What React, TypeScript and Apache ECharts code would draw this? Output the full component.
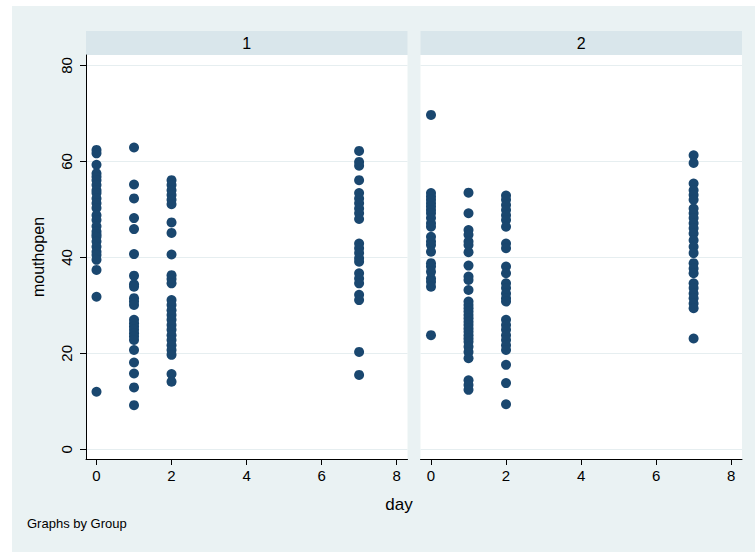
import React, { useEffect, useRef } from "react";
import * as echarts from "echarts";

const dayTicks = [0, 2, 4, 6, 8];
const yTicks = [0, 20, 40, 60, 80];
const groupLabels = ["1", "2"];

const g1d0 = [62.4, 61.7, 59.3, 57.5, 56.8, 56.1, 55.1, 54.0, 53.4, 52.3, 51.3, 50.3, 48.8, 47.8, 46.5, 45.4, 44.8, 44.3, 43.3, 42.2, 41.2, 40.5, 39.5, 37.4, 31.8, 12.0];
const g1d1 = [62.9, 55.2, 52.3, 48.2, 45.9, 40.7, 36.2, 34.4, 33.9, 31.5, 30.8, 30.1, 27.0, 26.3, 25.6, 24.9, 24.2, 23.5, 22.8, 20.7, 18.1, 15.8, 12.9, 9.2];
const g1d2 = [56.1, 55.1, 54.0, 53.0, 52.0, 51.1, 47.3, 45.1, 40.6, 36.3, 35.5, 34.6, 31.1, 30.1, 29.0, 28.0, 27.0, 25.9, 24.9, 23.8, 22.8, 21.7, 20.7, 19.7, 15.7, 14.1];
const g1d7 = [62.2, 59.9, 59.1, 56.1, 53.4, 52.3, 51.3, 50.2, 49.2, 48.0, 42.9, 41.9, 40.9, 39.8, 39.1, 36.7, 35.6, 34.6, 32.2, 31.1, 20.3, 15.5];

const g2d0 = [69.7, 53.4, 52.7, 52.0, 51.3, 50.6, 49.9, 49.2, 48.2, 47.1, 46.4, 44.3, 43.3, 42.6, 41.2, 38.8, 38.1, 37.0, 35.6, 34.9, 33.9, 23.8];
const g2d1 = [53.5, 49.2, 45.7, 44.7, 43.3, 42.6, 41.1, 38.3, 36.0, 35.3, 33.2, 30.8, 30.1, 29.4, 28.7, 28.0, 27.3, 26.6, 25.9, 25.2, 24.5, 23.8, 23.1, 22.4, 21.4, 20.3, 19.0, 14.4, 13.4, 12.4];
const g2d2 = [52.9, 52.0, 50.9, 49.9, 48.8, 47.8, 46.4, 42.9, 41.9, 38.1, 36.7, 34.6, 33.6, 32.5, 31.5, 30.8, 27.0, 25.9, 24.9, 23.8, 22.8, 21.7, 20.7, 17.6, 13.8, 9.4];
const g2d7 = [61.3, 59.7, 55.4, 54.0, 53.0, 52.0, 50.2, 49.2, 48.2, 47.1, 46.1, 45.0, 43.6, 42.2, 40.9, 38.8, 37.7, 36.7, 34.6, 33.6, 32.5, 31.5, 30.4, 29.4, 23.1];

const group1 = [
  { day: 0, values: g1d0 },
  { day: 1, values: g1d1 },
  { day: 2, values: g1d2 },
  { day: 7, values: g1d7 },
];
const group2 = [
  { day: 0, values: g2d0 },
  { day: 1, values: g2d1 },
  { day: 2, values: g2d2 },
  { day: 7, values: g2d7 },
];

const toPoints = (g: { day: number; values: number[] }[]) =>
  g.flatMap((d) => d.values.map((v) => [d.day, v]));

const FONT = "Liberation Sans, Arial, Helvetica, sans-serif";
const BG = "#eaf2f3";
const STRIP = "#d9e6eb";
const GRID = "#e6eef0";
const MARK = "#1a476f";

export default function App() {
  const ref = useRef<HTMLDivElement>(null);

  useEffect(() => {
    if (!ref.current) return;
    const chart = echarts.init(ref.current, undefined, { renderer: "svg" });

    const gridLeft = [86, 420.5];
    const gridWidth = 321.5;
    const gridTop = 55;
    const gridHeight = 404;

    const xAxisCommon = (idx: number) => ({
      type: "value",
      gridIndex: idx,
      min: -0.28,
      max: 8.29,
      axisLine: { show: true, onZero: false, lineStyle: { color: "#000", width: 1 } },
      axisTick: { show: true, length: 6, customValues: dayTicks, lineStyle: { color: "#000" } },
      axisLabel: { show: true, customValues: dayTicks, margin: 9, color: "#000", fontSize: 15, fontFamily: FONT },
      splitLine: { show: false },
    });

    const yAxisCommon = (idx: number) => ({
      type: "value",
      gridIndex: idx,
      min: -2.02,
      max: 82.19,
      axisLine: { show: idx === 0, onZero: false, lineStyle: { color: "#000", width: 1 } },
      axisTick: { show: idx === 0, length: 6, customValues: yTicks, lineStyle: { color: "#000" } },
      axisLabel: {
        show: idx === 0,
        customValues: yTicks,
        rotate: 90,
        margin: 12,
        color: "#000",
        fontSize: 15,
        fontFamily: FONT,
      },
      splitLine: { show: true, lineStyle: { color: GRID, width: 1.2 } },
    });

    const strips = groupLabels.map((label, i) => ({
      type: "group",
      children: [
        {
          type: "rect",
          shape: { x: gridLeft[i], y: 31, width: gridWidth, height: 24 },
          style: { fill: STRIP },
        },
        {
          type: "text",
          x: gridLeft[i] + gridWidth / 2,
          y: 43,
          style: {
            text: label,
            fill: "#000",
            font: `16px ${FONT}`,
            textAlign: "center",
            textVerticalAlign: "middle",
          },
        },
      ],
    }));

    chart.setOption({
      animation: false,
      backgroundColor: "#fff",
      graphic: [
        {
          type: "rect",
          z: -10,
          silent: true,
          shape: { x: 12, y: 6, width: 743, height: 546 },
          style: { fill: BG },
        },
        ...strips,
        {
          type: "text",
          x: 399,
          y: 504,
          style: { text: "day", fill: "#000", font: `17px ${FONT}`, textAlign: "center", textVerticalAlign: "middle" },
        },
        {
          type: "text",
          x: 38,
          y: 257,
          rotation: Math.PI / 2,
          style: { text: "mouthopen", fill: "#000", font: `16px ${FONT}`, textAlign: "center", textVerticalAlign: "middle" },
        },
        {
          type: "text",
          x: 27,
          y: 523,
          style: { text: "Graphs by Group", fill: "#000", font: `13px ${FONT}`, textAlign: "left", textVerticalAlign: "middle" },
        },
      ],
      grid: gridLeft.map((l) => ({
        left: l,
        top: gridTop,
        width: gridWidth,
        height: gridHeight,
        show: true,
        backgroundColor: "#fff",
        borderWidth: 0,
        containLabel: false,
      })),
      xAxis: [xAxisCommon(0), xAxisCommon(1)],
      yAxis: [yAxisCommon(0), yAxisCommon(1)],
      series: [
        {
          type: "scatter",
          xAxisIndex: 0,
          yAxisIndex: 0,
          data: toPoints(group1),
          symbol: "circle",
          symbolSize: 10,
          itemStyle: { color: MARK, opacity: 1 },
        },
        {
          type: "scatter",
          xAxisIndex: 1,
          yAxisIndex: 1,
          data: toPoints(group2),
          symbol: "circle",
          symbolSize: 10,
          itemStyle: { color: MARK, opacity: 1 },
        },
      ],
    });

    return () => chart.dispose();
  }, []);

  return (
    <div
      ref={ref}
      style={{ position: "fixed", left: 0, top: 0, width: 755, height: 552, background: "#fff" }}
    />
  );
}
